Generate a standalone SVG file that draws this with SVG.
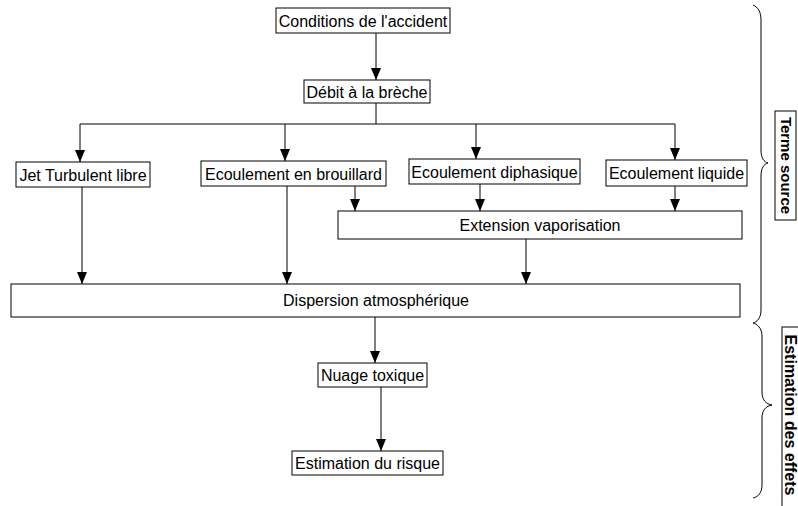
<svg xmlns="http://www.w3.org/2000/svg" width="798" height="506" viewBox="0 0 798 506">
<style>
.box{fill:#fff;stroke:#000;stroke-width:1}
.t{font-family:"Liberation Sans",Arial,sans-serif;font-size:16px;fill:#000;text-anchor:middle}
.tb{font-family:"Liberation Sans",Arial,sans-serif;font-weight:bold;fill:#000;text-anchor:middle}
.c{stroke:#000;stroke-width:1;fill:none}
.ca{stroke:#000;stroke-width:1;fill:none;marker-end:url(#ah)}
</style>
<defs>
<marker id="ah" markerUnits="userSpaceOnUse" markerWidth="12" markerHeight="10" refX="12" refY="5" orient="auto">
<path d="M0,0 L12,5 L0,10 z" fill="#000"/>
</marker>
</defs>
<rect width="798" height="506" fill="#fff"/>
<g id="connectors">
<path class="ca" d="M376,33 V80"/>
<path class="c" d="M376,103 V124 M80,124 H675"/>
<path class="ca" d="M80,124 V162"/>
<path class="ca" d="M285,124 V161"/>
<path class="ca" d="M476,124 V159"/>
<path class="ca" d="M675,124 V160"/>
<path class="ca" d="M355,186 V211"/>
<path class="ca" d="M480,184 V211"/>
<path class="ca" d="M675,186 V211"/>
<path class="ca" d="M82,187 V284"/>
<path class="ca" d="M287,186 V284"/>
<path class="ca" d="M526,239 V284"/>
<path class="ca" d="M375,317 V363"/>
<path class="ca" d="M381,387 V451"/>
</g>
<g id="n1"><rect class="box" x="276" y="8" width="174" height="25"/><text class="t" x="363" y="26.5">Conditions de l'accident</text></g>
<g id="n2"><rect class="box" x="304" y="80" width="126" height="23"/><text class="t" x="367" y="97.5">Débit à la brèche</text></g>
<g id="n3"><rect class="box" x="16" y="162" width="134" height="25"/><text class="t" x="83" y="180.5">Jet Turbulent libre</text></g>
<g id="n4"><rect class="box" x="201" y="161" width="185" height="25"/><text class="t" x="293.5" y="179.5">Ecoulement en brouillard</text></g>
<g id="n5"><rect class="box" x="409" y="159" width="171" height="25"/><text class="t" x="494.5" y="177.5">Ecoulement diphasique</text></g>
<g id="n6"><rect class="box" x="606" y="160" width="141" height="26"/><text class="t" x="676.5" y="178.5">Ecoulement liquide</text></g>
<g id="n7"><rect class="box" x="338" y="211" width="404" height="28"/><text class="t" x="540" y="230.5">Extension vaporisation</text></g>
<g id="n8"><rect class="box" x="11" y="284" width="729" height="33"/><text class="t" x="376" y="305.5">Dispersion atmosphérique</text></g>
<g id="n9"><rect class="box" x="318" y="363" width="109" height="24"/><text class="t" x="372.5" y="380.5">Nuage toxique</text></g>
<g id="n10"><rect class="box" x="292" y="451" width="151" height="24"/><text class="t" x="367.5" y="468.5">Estimation du risque</text></g>
<g id="brace-terme">
<path class="c" d="M753,5 C758,7 761,12 761,20 L761,150 C761,158 764,162 768,163 C764,164 761,168 761,176 L761,310 C761,318 757,322 753,323"/>
<rect class="box" x="775" y="111" width="21" height="109"/>
<text class="tb" font-size="15" transform="translate(786,165.5) rotate(90)" x="0" y="5">Terme source</text>
</g>
<g id="brace-estimation">
<path class="c" d="M753,323 C757,324 762,328 762,336 L762,392 C762,400 766,404 772,405 C766,406 762,410 762,418 L762,485 C762,493 758,497 753,498"/>
<rect class="box" x="782" y="327" width="30" height="190"/>
<text class="tb" font-size="16" transform="translate(789.5,415) rotate(90)" x="0" y="5">Estimation des effets</text>
</g>
</svg>
